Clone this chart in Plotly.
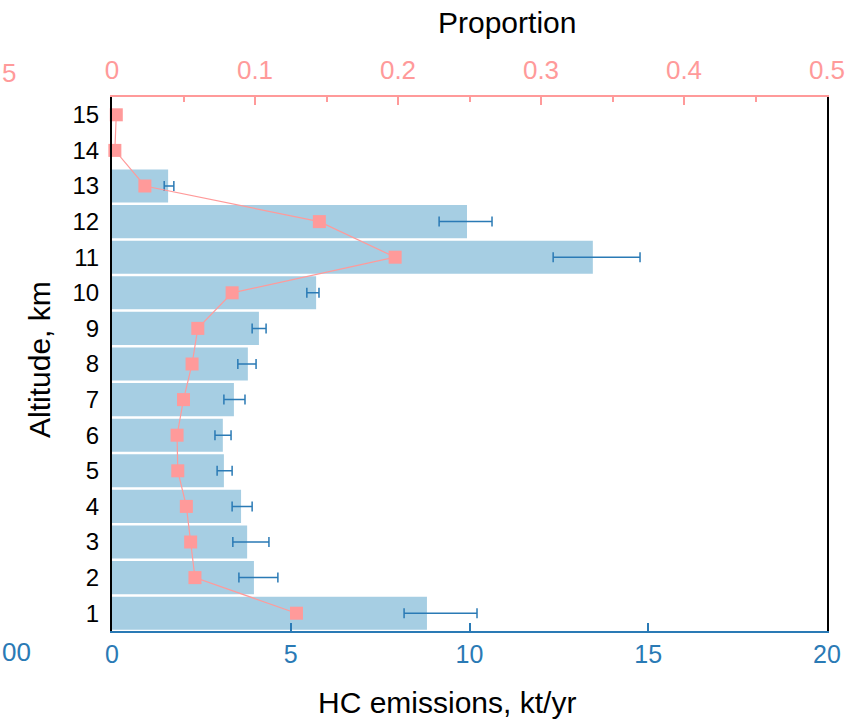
import plotly.graph_objects as go

altitude = list(range(1, 16))
hc_emissions = [8.81, 3.97, 3.78, 3.61, 3.13, 3.10, 3.41, 3.80, 4.11, 5.71, 13.45, 9.93, 1.57, 0.0, 0.0]
err_low = [8.17, 3.55, 3.38, 3.36, 2.94, 2.88, 3.13, 3.52, 3.92, 5.45, 12.34, 9.15, 1.46, None, None]
err_high = [10.21, 4.64, 4.39, 3.92, 3.36, 3.33, 3.72, 4.03, 4.31, 5.79, 14.77, 10.63, 1.73, None, None]
proportion = [0.129, 0.058, 0.055, 0.052, 0.046, 0.0455, 0.050, 0.056, 0.060, 0.084, 0.198, 0.145, 0.023, 0.002, 0.003]

x_ticks = [0, 5, 10, 15, 20]
p_ticks = [0, 0.1, 0.2, 0.3, 0.4, 0.5]

BLUE = "#2a7ab5"
BAR = "#a6cee3"
PINK = "#ff9a9a"
FONT = "Liberation Sans, Arial, sans-serif"

plus = [(h - v) if h is not None else 0 for h, v in zip(err_high, hc_emissions)]
minus = [(v - l) if l is not None else 0 for l, v in zip(err_low, hc_emissions)]

fig = go.Figure()
fig.add_trace(go.Bar(
    x=hc_emissions, y=altitude, orientation="h",
    marker=dict(color=BAR, line=dict(width=0)),
    error_x=dict(type="data", symmetric=False, array=plus, arrayminus=minus,
                 color=BLUE, thickness=1.5, width=5),
    xaxis="x", yaxis="y", showlegend=False,
))
fig.add_trace(go.Scatter(
    x=proportion, y=altitude, mode="lines+markers",
    line=dict(color=PINK, width=1.2),
    marker=dict(symbol="square", size=13, color=PINK),
    xaxis="x2", yaxis="y", showlegend=False, cliponaxis=False,
))

fig.update_layout(
    width=866, height=721,
    margin=dict(l=112, r=39, t=97, b=90),
    paper_bgcolor="white", plot_bgcolor="white",
    font=dict(family=FONT, size=20, color="black"),
    bargap=0.07,
    xaxis=dict(
        range=[0, 20], tickvals=x_ticks, ticks="inside", ticklen=8, tickwidth=1.5,
        tickcolor=BLUE, showline=True, linecolor=BLUE, linewidth=2,
        tickfont=dict(color=BLUE, size=25), showgrid=False, zeroline=False,
        ticklabelstandoff=0,
    ),
    xaxis2=dict(
        range=[0, 0.5], tickvals=p_ticks, overlaying="x", side="top", anchor="y",
        ticks="inside", ticklen=8, tickwidth=1.5, tickcolor=PINK,
        minor=dict(dtick=0.05, ticks="inside", ticklen=5, tickcolor=PINK, tickwidth=1.5),
        showline=True, linecolor=PINK, linewidth=2,
        tickfont=dict(color=PINK, size=26), showgrid=False, zeroline=False,
        ticklabelstandoff=6,
    ),
    yaxis=dict(
        range=[0.5, 15.5], tickvals=altitude, ticks="", showline=True, mirror=True,
        linecolor="black", linewidth=2, showgrid=False, zeroline=False,
        tickfont=dict(size=24, color="black"), ticklabelstandoff=6,
    ),
)

W0, W1, H0, H1 = 112, 827, 97, 631


def px(x):
    return (x - W0) / (W1 - W0)


def py(y):
    return (H1 - y) / (H1 - H0)


fig.add_annotation(text="Proportion", xref="paper", yref="paper", x=px(507), y=py(22),
                   showarrow=False, xanchor="center", yanchor="middle",
                   font=dict(size=30, color="black"))
fig.add_annotation(text="HC emissions, kt/yr", xref="paper", yref="paper", x=px(447), y=py(702),
                   showarrow=False, xanchor="center", yanchor="middle",
                   font=dict(size=30, color="black"))
fig.add_annotation(text="Altitude, km", xref="paper", yref="paper", x=px(39), y=py(360),
                   showarrow=False, xanchor="center", yanchor="middle", textangle=-90,
                   font=dict(size=30, color="black"))
# stray fragments of neighbouring panel labels at the left edge
fig.add_annotation(text="5", xref="paper", yref="paper", x=px(0), y=py(73),
                   showarrow=False, xanchor="left", yanchor="middle",
                   font=dict(size=26, color=PINK))
fig.add_annotation(text="00", xref="paper", yref="paper", x=px(0), y=py(652),
                   showarrow=False, xanchor="left", yanchor="middle",
                   font=dict(size=26, color=BLUE))

fig.write_html("out.html")
